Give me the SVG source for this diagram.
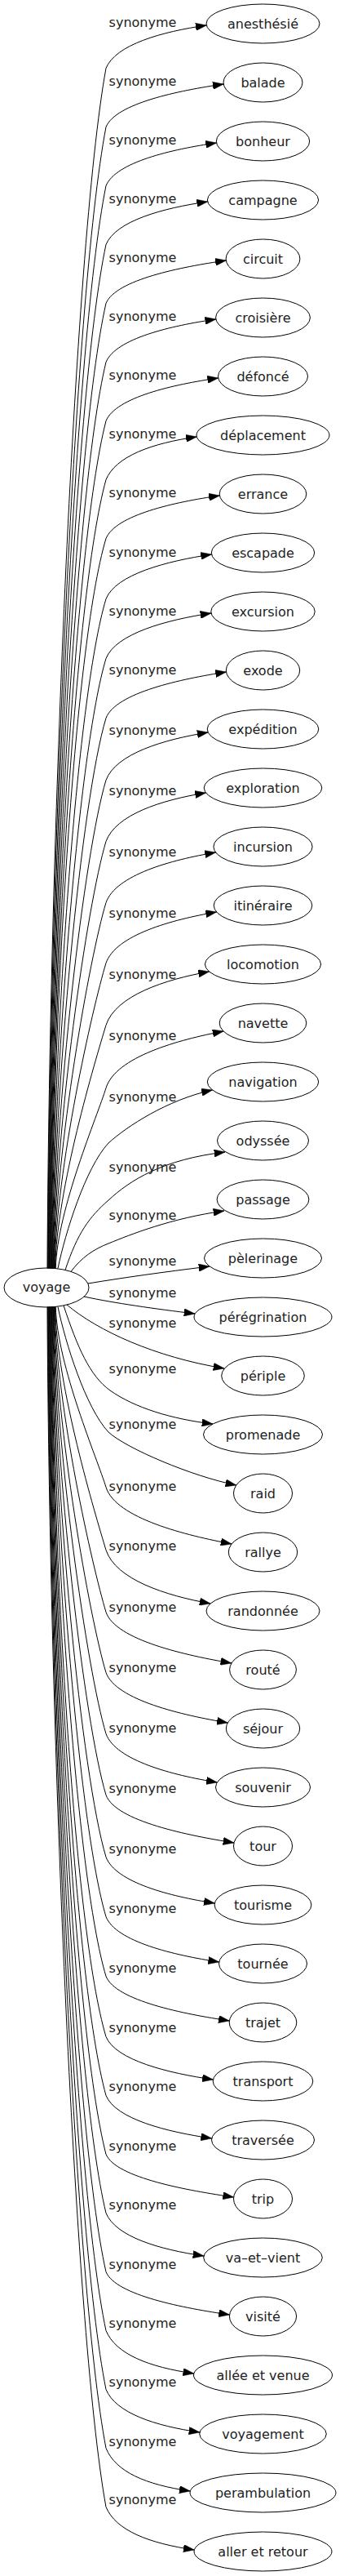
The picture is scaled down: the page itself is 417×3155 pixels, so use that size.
<svg xmlns="http://www.w3.org/2000/svg" width="417" height="3155" viewBox="0 0 417 3155">
<style>
.n ellipse{fill:none;stroke:#000;stroke-width:1}
text{font-family:"DejaVu Sans",sans-serif;font-size:16px;fill:#222;text-anchor:middle}
.e path{fill:none;stroke:#000;stroke-width:1;marker-end:url(#a)}
</style>
<defs>
<marker id="a" markerUnits="userSpaceOnUse" viewBox="0 0 13.3 9.33" markerWidth="13.3" markerHeight="9.33" refX="13.3" refY="4.665" orient="auto"><path d="M0,0L13.3,4.665L0,9.33z" fill="#000" stroke="#000" stroke-width="0.5"/></marker>
</defs>
<rect width="417" height="3155" fill="#fff"/>
<g class="e" id="edges">
<path d="M58,1553.5 C60,1068.4 90,304 130,83.5 C142,54.6 198.2,38.9 253.2,31"/>
<path d="M58.6,1553.5 C60.6,1092.2 90,365.2 130,155.5 C142,126.6 219.2,110.9 274.2,103"/>
<path d="M59.2,1553.5 C61.2,1115.9 90,426.4 130,227.5 C142,198.6 210.5,182.9 265.5,175"/>
<path d="M59.8,1553.5 C61.8,1139.7 90,487.6 130,299.5 C142,270.6 199.6,254.9 254.6,247"/>
<path d="M60.4,1553.5 C62.4,1163.4 90,548.8 130,371.5 C142,342.6 222.3,326.9 277.3,319"/>
<path d="M61,1553.5 C63,1187.2 90,610 130,443.5 C142,414.6 209.8,398.9 264.8,391"/>
<path d="M61.6,1553.5 C63.6,1211 90,671.2 130,515.5 C142,486.6 212.7,470.9 267.7,463"/>
<path d="M62.2,1553.5 C64.2,1234.7 90,732.4 130,587.5 C142,558.6 186.3,542.9 241.3,535"/>
<path d="M62.8,1553.5 C64.8,1258.5 90,793.6 130,659.5 C142,630.6 214.4,614.9 269.4,607"/>
<path d="M63.4,1553.5 C65.4,1282.9 93.1,856.5 130,733.5 C142,703.5 204.5,687.2 259.5,679"/>
<path d="M64,1553.5 C66,1307 96.4,918.5 130,806.5 C142,776 204,759.3 259,751"/>
<path d="M64.6,1553.5 C66.6,1331.1 99.7,980.6 130,879.5 C142,848.4 222.5,831.5 277.5,823"/>
<path d="M65.2,1553.5 C67.2,1356.2 103.1,1045.2 130,955.5 C142,923.3 200.2,905.8 255.2,897"/>
<path d="M65.8,1553.5 C67.8,1380.9 106.5,1109 130,1030.5 C142,997.8 197.5,979.9 252.5,971"/>
<path d="M66.4,1553.5 C68.4,1405.7 109.8,1172.7 130,1105.5 C142,1071.7 209.6,1053.2 264.6,1044"/>
<path d="M67,1553.5 C69,1430.1 113.2,1235.6 130,1179.5 C142,1145.1 210.6,1126.4 265.6,1117"/>
<path d="M67.6,1553.5 C69.6,1455.2 116.6,1300.2 130,1255.5 C142,1219.5 201.6,1199.8 256.6,1190"/>
<path d="M68.2,1553.5 C70.2,1480.6 120,1365.7 130,1332.5 C142,1294.3 219.1,1273.4 274.1,1263"/>
<path d="M71,1553.5 C80,1510 105,1430 133,1400 C155,1380 205,1347 260.5,1335"/>
<path d="M80,1555.5 C95,1510 110,1490 133,1470 C160,1445 200,1420 276,1411"/>
<path d="M87,1557.4 C100,1540 115,1530 133,1523 C160,1512 210,1492 275,1483"/>
<path d="M108,1572 C150,1565 200,1558 257,1551"/>
<path d="M103,1588 C140,1596 190,1603 239,1609"/>
<path d="M82,1598 C120,1630 190,1662 275,1676"/>
<path d="M78,1599 C95,1650 110,1685 135,1703 C165,1724 210,1738 261,1744"/>
<path d="M71,1600.5 C80,1644 105,1724 133,1754 C155,1774 235,1808 289.8,1819"/>
<path d="M68.2,1600.5 C70.2,1673.4 120,1788.3 130,1821.5 C142,1859.7 229.1,1880.6 284.1,1891"/>
<path d="M67.6,1600.5 C69.6,1698.8 116.6,1853.8 130,1898.5 C142,1934.5 203.1,1954.2 258.1,1964"/>
<path d="M67,1600.5 C69,1723.9 113.2,1918.4 130,1974.5 C142,2008.9 228.9,2027.6 283.9,2037"/>
<path d="M66.4,1600.5 C68.4,1748.3 109.8,1981.3 130,2048.5 C142,2082.3 224.3,2100.8 279.3,2110"/>
<path d="M65.8,1600.5 C67.8,1773.1 106.5,2045 130,2123.5 C142,2156.2 211.4,2174.1 266.4,2183"/>
<path d="M65.2,1600.5 C67.2,1797.8 103.1,2108.8 130,2198.5 C142,2230.7 232,2248.2 287,2257"/>
<path d="M64.6,1600.5 C66.6,1822.9 99.7,2173.4 130,2274.5 C142,2305.6 208.3,2322.5 263.3,2331"/>
<path d="M64,1600.5 C66,1847 96.4,2235.5 130,2347.5 C142,2378 213.7,2394.7 268.7,2403"/>
<path d="M63.4,1600.5 C65.4,1871.1 93.1,2297.5 130,2420.5 C142,2450.5 226.3,2466.8 281.3,2475"/>
<path d="M62.8,1600.5 C64.8,1895.5 90,2360.4 130,2494.5 C142,2523.4 206.4,2539.1 261.4,2547"/>
<path d="M62.2,1600.5 C64.2,1919.3 90,2421.6 130,2566.5 C142,2595.4 204.7,2611.1 259.7,2619"/>
<path d="M61.6,1600.5 C63.6,1943 90,2482.8 130,2638.5 C142,2667.4 231.6,2683.1 286.6,2691"/>
<path d="M61,1600.5 C63,1966.8 90,2544 130,2710.5 C142,2739.4 195,2755.1 250,2763"/>
<path d="M60.4,1600.5 C62.4,1990.6 90,2605.2 130,2782.5 C142,2811.4 226.5,2827.1 281.5,2835"/>
<path d="M59.8,1600.5 C61.8,2014.3 90,2666.4 130,2854.5 C142,2883.4 182.8,2899.1 237.8,2907"/>
<path d="M59.2,1600.5 C61.2,2038.1 90,2727.6 130,2926.5 C142,2955.4 190,2971.1 245,2979"/>
<path d="M58.6,1600.5 C60.6,2061.8 90,2788.8 130,2998.5 C142,3027.4 178.3,3043.1 233.3,3051"/>
<path d="M58,1600.5 C60,2085.6 90,2850 130,3070.5 C142,3099.4 183.3,3115.1 238.3,3123"/>
</g>
<g id="edge-labels">
<text x="175" y="33">synonyme</text>
<text x="175" y="105">synonyme</text>
<text x="175" y="177">synonyme</text>
<text x="175" y="249">synonyme</text>
<text x="175" y="321">synonyme</text>
<text x="175" y="393">synonyme</text>
<text x="175" y="465">synonyme</text>
<text x="175" y="537">synonyme</text>
<text x="175" y="609">synonyme</text>
<text x="175" y="682">synonyme</text>
<text x="175" y="754">synonyme</text>
<text x="175" y="826">synonyme</text>
<text x="175" y="900">synonyme</text>
<text x="175" y="974">synonyme</text>
<text x="175" y="1049">synonyme</text>
<text x="175" y="1124">synonyme</text>
<text x="175" y="1199">synonyme</text>
<text x="175" y="1274">synonyme</text>
<text x="175" y="1349">synonyme</text>
<text x="175" y="1435">synonyme</text>
<text x="175" y="1494">synonyme</text>
<text x="175" y="1550">synonyme</text>
<text x="175" y="1589">synonyme</text>
<text x="175" y="1626">synonyme</text>
<text x="175" y="1682">synonyme</text>
<text x="175" y="1750">synonyme</text>
<text x="175" y="1826">synonyme</text>
<text x="175" y="1899">synonyme</text>
<text x="175" y="1974">synonyme</text>
<text x="175" y="2048">synonyme</text>
<text x="175" y="2122">synonyme</text>
<text x="175" y="2196">synonyme</text>
<text x="175" y="2270">synonyme</text>
<text x="175" y="2343">synonyme</text>
<text x="175" y="2416">synonyme</text>
<text x="175" y="2489">synonyme</text>
<text x="175" y="2561">synonyme</text>
<text x="175" y="2634">synonyme</text>
<text x="175" y="2706">synonyme</text>
<text x="175" y="2779">synonyme</text>
<text x="175" y="2851">synonyme</text>
<text x="175" y="2923">synonyme</text>
<text x="175" y="2996">synonyme</text>
<text x="175" y="3067">synonyme</text>
</g>
<g class="n" id="voyage"><ellipse cx="57" cy="1577" rx="52" ry="24"/><text x="57" y="1582">voyage</text></g>
<g class="n" id="n0"><ellipse cx="322.5" cy="29" rx="69.5" ry="24"/><text x="322.5" y="34.5">anesthésié</text></g>
<g class="n" id="n1"><ellipse cx="322.5" cy="101" rx="48.5" ry="24"/><text x="322.5" y="106.5">balade</text></g>
<g class="n" id="n2"><ellipse cx="322.5" cy="173" rx="57.2" ry="24"/><text x="322.5" y="178.5">bonheur</text></g>
<g class="n" id="n3"><ellipse cx="322.5" cy="245" rx="68.1" ry="24"/><text x="322.5" y="250.5">campagne</text></g>
<g class="n" id="n4"><ellipse cx="322.5" cy="317" rx="45.4" ry="24"/><text x="322.5" y="322.5">circuit</text></g>
<g class="n" id="n5"><ellipse cx="322.5" cy="389" rx="57.9" ry="24"/><text x="322.5" y="394.5">croisière</text></g>
<g class="n" id="n6"><ellipse cx="322.5" cy="461" rx="55" ry="24"/><text x="322.5" y="466.5">défoncé</text></g>
<g class="n" id="n7"><ellipse cx="322.5" cy="533" rx="81.5" ry="24"/><text x="322.5" y="538.5">déplacement</text></g>
<g class="n" id="n8"><ellipse cx="322.5" cy="605" rx="53.3" ry="24"/><text x="322.5" y="610.5">errance</text></g>
<g class="n" id="n9"><ellipse cx="322.5" cy="677" rx="63.2" ry="24"/><text x="322.5" y="682.5">escapade</text></g>
<g class="n" id="n10"><ellipse cx="322.5" cy="749" rx="63.7" ry="24"/><text x="322.5" y="754.5">excursion</text></g>
<g class="n" id="n11"><ellipse cx="322.5" cy="821" rx="45.2" ry="24"/><text x="322.5" y="826.5">exode</text></g>
<g class="n" id="n12"><ellipse cx="322.5" cy="893" rx="68.3" ry="24"/><text x="322.5" y="898.5">expédition</text></g>
<g class="n" id="n13"><ellipse cx="322.5" cy="965" rx="72.3" ry="24"/><text x="322.5" y="970.5">exploration</text></g>
<g class="n" id="n14"><ellipse cx="322.5" cy="1037" rx="60.6" ry="24"/><text x="322.5" y="1042.5">incursion</text></g>
<g class="n" id="n15"><ellipse cx="322.5" cy="1109" rx="60.3" ry="24"/><text x="322.5" y="1114.5">itinéraire</text></g>
<g class="n" id="n16"><ellipse cx="322.5" cy="1181" rx="71.1" ry="24"/><text x="322.5" y="1186.5">locomotion</text></g>
<g class="n" id="n17"><ellipse cx="322.5" cy="1253" rx="53.3" ry="24"/><text x="322.5" y="1258.5">navette</text></g>
<g class="n" id="n18"><ellipse cx="322.5" cy="1325" rx="68.2" ry="24"/><text x="322.5" y="1330.5">navigation</text></g>
<g class="n" id="n19"><ellipse cx="322.5" cy="1397" rx="56" ry="24"/><text x="322.5" y="1402.5">odyssée</text></g>
<g class="n" id="n20"><ellipse cx="322.5" cy="1469" rx="56.4" ry="24"/><text x="322.5" y="1474.5">passage</text></g>
<g class="n" id="n21"><ellipse cx="322.5" cy="1541" rx="72" ry="24"/><text x="322.5" y="1546.5">pèlerinage</text></g>
<g class="n" id="n22"><ellipse cx="322.5" cy="1613" rx="84.5" ry="24"/><text x="322.5" y="1618.5">pérégrination</text></g>
<g class="n" id="n23"><ellipse cx="322.5" cy="1685" rx="50.8" ry="24"/><text x="322.5" y="1690.5">périple</text></g>
<g class="n" id="n24"><ellipse cx="322.5" cy="1757" rx="73" ry="24"/><text x="322.5" y="1762.5">promenade</text></g>
<g class="n" id="n25"><ellipse cx="322.5" cy="1829" rx="36" ry="24"/><text x="322.5" y="1834.5">raid</text></g>
<g class="n" id="n26"><ellipse cx="322.5" cy="1901" rx="42.2" ry="24"/><text x="322.5" y="1906.5">rallye</text></g>
<g class="n" id="n27"><ellipse cx="322.5" cy="1973" rx="69.5" ry="24"/><text x="322.5" y="1978.5">randonnée</text></g>
<g class="n" id="n28"><ellipse cx="322.5" cy="2045" rx="40.9" ry="24"/><text x="322.5" y="2050.5">routé</text></g>
<g class="n" id="n29"><ellipse cx="322.5" cy="2117" rx="45.2" ry="24"/><text x="322.5" y="2122.5">séjour</text></g>
<g class="n" id="n30"><ellipse cx="322.5" cy="2189" rx="58" ry="24"/><text x="322.5" y="2194.5">souvenir</text></g>
<g class="n" id="n31"><ellipse cx="322.5" cy="2261" rx="36" ry="24"/><text x="322.5" y="2266.5">tour</text></g>
<g class="n" id="n32"><ellipse cx="322.5" cy="2333" rx="59.4" ry="24"/><text x="322.5" y="2338.5">tourisme</text></g>
<g class="n" id="n33"><ellipse cx="322.5" cy="2405" rx="54" ry="24"/><text x="322.5" y="2410.5">tournée</text></g>
<g class="n" id="n34"><ellipse cx="322.5" cy="2477" rx="41.3" ry="24"/><text x="322.5" y="2482.5">trajet</text></g>
<g class="n" id="n35"><ellipse cx="322.5" cy="2549" rx="61.3" ry="24"/><text x="322.5" y="2554.5">transport</text></g>
<g class="n" id="n36"><ellipse cx="322.5" cy="2621" rx="63" ry="24"/><text x="322.5" y="2626.5">traversée</text></g>
<g class="n" id="n37"><ellipse cx="322.5" cy="2693" rx="36" ry="24"/><text x="322.5" y="2698.5">trip</text></g>
<g class="n" id="n38"><ellipse cx="322.5" cy="2765" rx="72.8" ry="24"/><text x="322.5" y="2770.5">va–et–vient</text></g>
<g class="n" id="n39"><ellipse cx="322.5" cy="2837" rx="41.1" ry="24"/><text x="322.5" y="2842.5">visité</text></g>
<g class="n" id="n40"><ellipse cx="322.5" cy="2909" rx="85" ry="24"/><text x="322.5" y="2914.5">allée et venue</text></g>
<g class="n" id="n41"><ellipse cx="322.5" cy="2981" rx="77.8" ry="24"/><text x="322.5" y="2986.5">voyagement</text></g>
<g class="n" id="n42"><ellipse cx="322.5" cy="3053" rx="89.5" ry="24"/><text x="322.5" y="3058.5">perambulation</text></g>
<g class="n" id="n43"><ellipse cx="322.5" cy="3125" rx="84.5" ry="24"/><text x="322.5" y="3130.5">aller et retour</text></g>
</svg>
